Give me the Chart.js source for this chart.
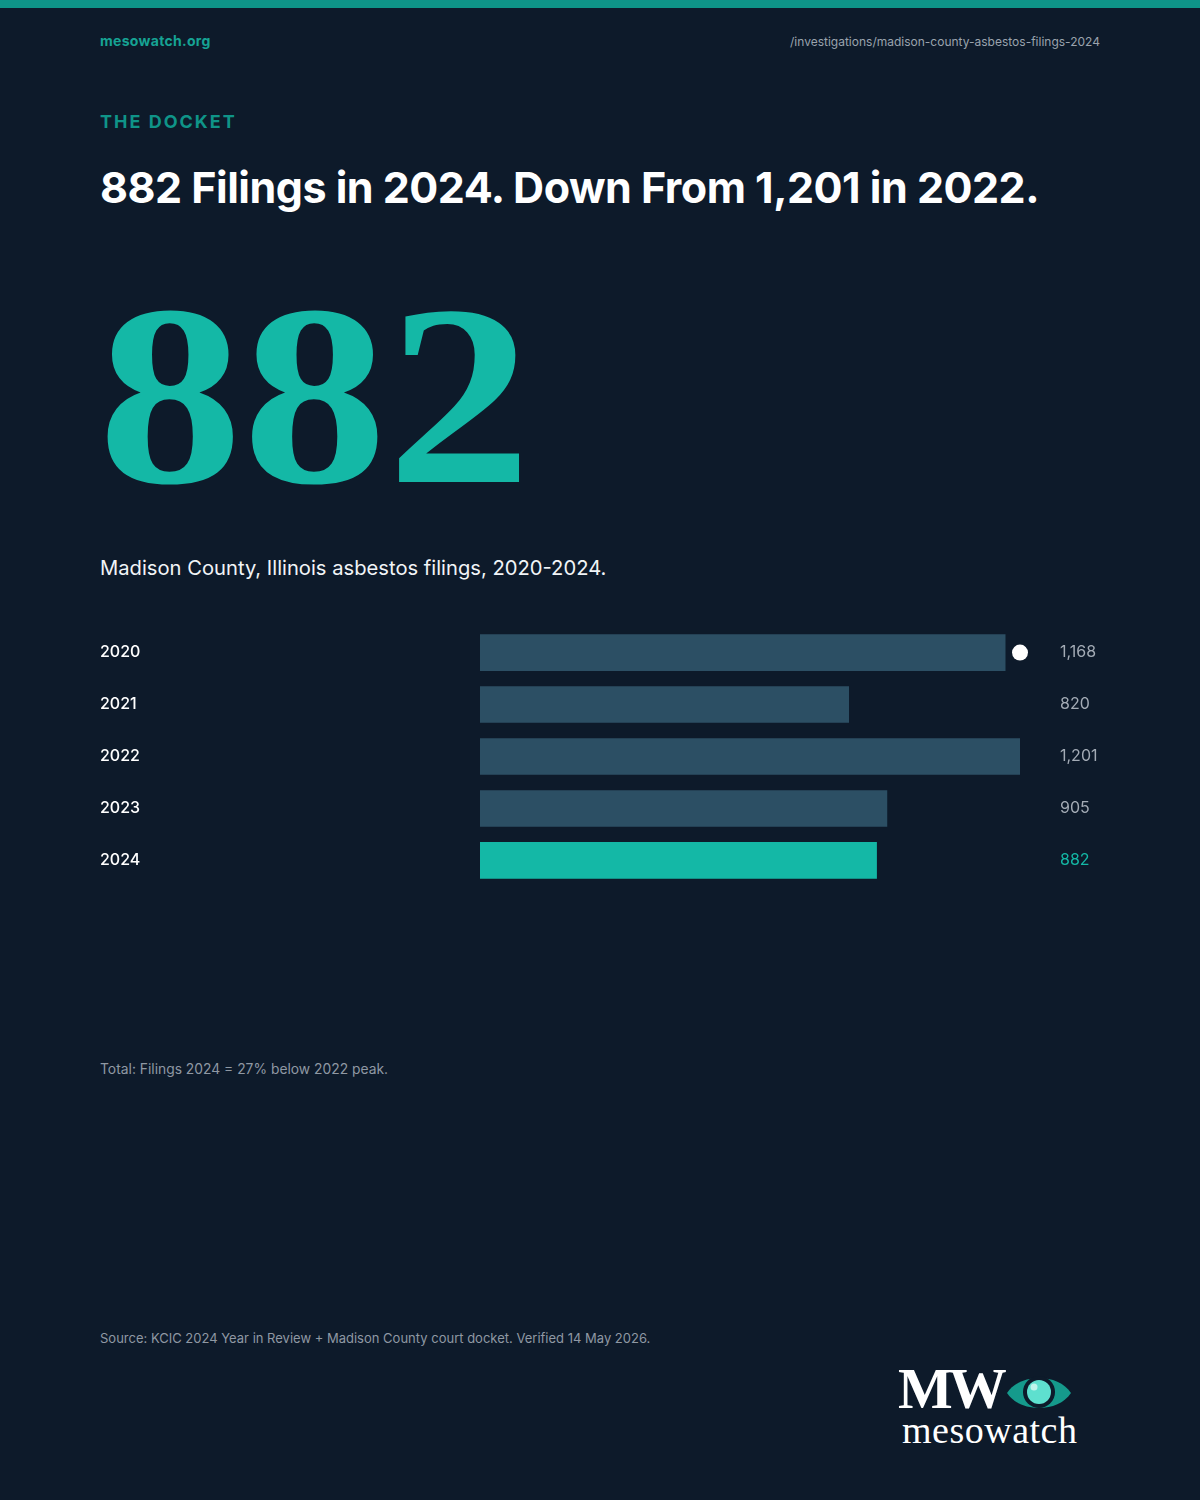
<!DOCTYPE html>
<html>
<head>
<meta charset="utf-8">
<script src="https://cdn.jsdelivr.net/npm/chart.js@4.4.1/dist/chart.umd.min.js"></script>
<style>
  html, body { margin: 0; padding: 0; }
  body { width: 1200px; height: 1500px; background: #0d1a2a; position: relative; overflow: hidden; font-family: Inter, "Noto Sans", sans-serif; }
  .topbar { position: absolute; left: 0; top: 0; width: 1200px; height: 8px; background: #0e9488; }
  .abs { position: absolute; white-space: nowrap; }
  .site { left: 100px; top: 32px; font-size: 14px; font-weight: 700; color: #16a394; line-height: 18px; letter-spacing: 0.3px; }
  .path { right: 100px; top: 34px; font-size: 12px; color: #9aa3ad; line-height: 16px; }
  .kicker { left: 100px; top: 111px; font-size: 18px; font-weight: 700; letter-spacing: 2.0px; color: #0f9488; line-height: 22px; }
  .title { left: 100px; top: 161px; font-size: 43px; font-weight: 700; color: #ffffff; line-height: 52px; letter-spacing: -0.5px; }
  .big { left: 98px; top: 255px; font-family: "Liberation Serif", serif; font-size: 258px; font-weight: 700; color: #14b8a6; line-height: 280px; transform: scaleX(1.12); transform-origin: left top; }
  .sub { left: 100px; top: 555px; font-size: 20.2px; color: #f1f4f7; line-height: 26px; }
  .note { left: 100px; top: 1060px; font-size: 13.85px; color: #8f98a3; line-height: 18px; }
  .source { left: 100px; top: 1330px; font-size: 13px; color: #8f98a3; line-height: 17px; }
  #chartWrap { position: absolute; left: 100px; top: 617px; width: 1000px; height: 279px; }
  .logo { left: 898px; top: 1369px; font-family: "Liberation Serif", serif; font-size: 0; line-height: 0; color: #ffffff; }
  .logo .mw { font-size: 58px; font-weight: 700; line-height: 40px; letter-spacing: -4px; }
  .logo .nm { font-size: 38px; font-weight: 400; line-height: 42px; letter-spacing: 0.5px; margin-left: 4px; }
  .eye { position: absolute; left: 1006px; top: 1370px; }
</style>
</head>
<body>
<div class="topbar"></div>
<div class="abs site">mesowatch.org</div>
<div class="abs path">/investigations/madison-county-asbestos-filings-2024</div>
<div class="abs kicker">THE DOCKET</div>
<div class="abs title">882 Filings in 2024. Down From 1,201 in 2022.</div>
<div class="abs big">882</div>
<div class="abs sub">Madison County, Illinois asbestos filings, 2020-2024.</div>
<div id="chartWrap"><canvas id="c"></canvas></div>
<div class="abs note">Total: Filings 2024 = 27% below 2022 peak.</div>
<div class="abs source">Source: KCIC 2024 Year in Review + Madison County court docket. Verified 14 May 2026.</div>
<div class="abs logo"><span class="mw">MW</span><br><span class="nm">mesowatch</span></div>
<svg class="eye" width="66" height="46" viewBox="0 0 66 46">
  <path d="M1 23 C 14 3, 52 3, 65 23 C 52 43, 14 43, 1 23 Z" fill="#159a8c"/>
  <circle cx="33" cy="22" r="16" fill="#0d1a2a"/>
  <circle cx="33" cy="22" r="12" fill="#5ee0cf"/>
  <circle cx="28" cy="17" r="3.5" fill="#bff5ec"/>
</svg>
<script>
const years = ["2020", "2021", "2022", "2023", "2024"];
const filings = [1168, 820, 1201, 905, 882];
const valueLabels = ["1,168", "820", "1,201", "905", "882"];
const highlightYear = "2024";
const markerYear = "2020";

const barColors = years.map(y => y === highlightYear ? "#14b8a6" : "#2c4f64");
const peak = Math.max(...filings);

const overlay = {
  id: "overlay",
  afterDatasetsDraw(chart) {
    const ctx = chart.ctx;
    const xs = chart.scales.x, ys = chart.scales.y;
    ctx.save();
    ctx.font = "400 16px Inter, sans-serif";
    ctx.textBaseline = "middle";
    ctx.textAlign = "left";
    years.forEach((y, i) => {
      const py = ys.getPixelForValue(i);
      ctx.fillStyle = y === highlightYear ? "#14b8a6" : "#a3abb5";
      ctx.fillText(valueLabels[i], chart.chartArea.right + 40, py);
    });
    const mi = years.indexOf(markerYear);
    ctx.beginPath();
    ctx.arc(xs.getPixelForValue(peak), ys.getPixelForValue(mi), 8, 0, Math.PI * 2);
    ctx.fillStyle = "#ffffff";
    ctx.fill();
    ctx.restore();
  }
};

new Chart(document.getElementById("c"), {
  type: "bar",
  data: {
    labels: years,
    datasets: [{
      data: filings,
      backgroundColor: barColors,
      barThickness: 36,
      borderWidth: 0
    }]
  },
  options: {
    indexAxis: "y",
    responsive: true,
    maintainAspectRatio: false,
    animation: false,
    layout: { padding: { left: 0, right: 80, top: 0, bottom: 0 } },
    plugins: { legend: { display: false }, tooltip: { enabled: false } },
    scales: {
      x: { min: 0, max: peak, display: false, grid: { display: false } },
      y: {
        grid: { display: false },
        border: { display: false },
        afterFit(scale) { scale.width = 380; },
        ticks: {
          crossAlign: "far",
          padding: 0,
          color: "#ffffff",
          font: { family: "Inter, sans-serif", size: 16, weight: 500 }
        }
      }
    }
  },
  plugins: [overlay]
});
</script>
</body>
</html>
